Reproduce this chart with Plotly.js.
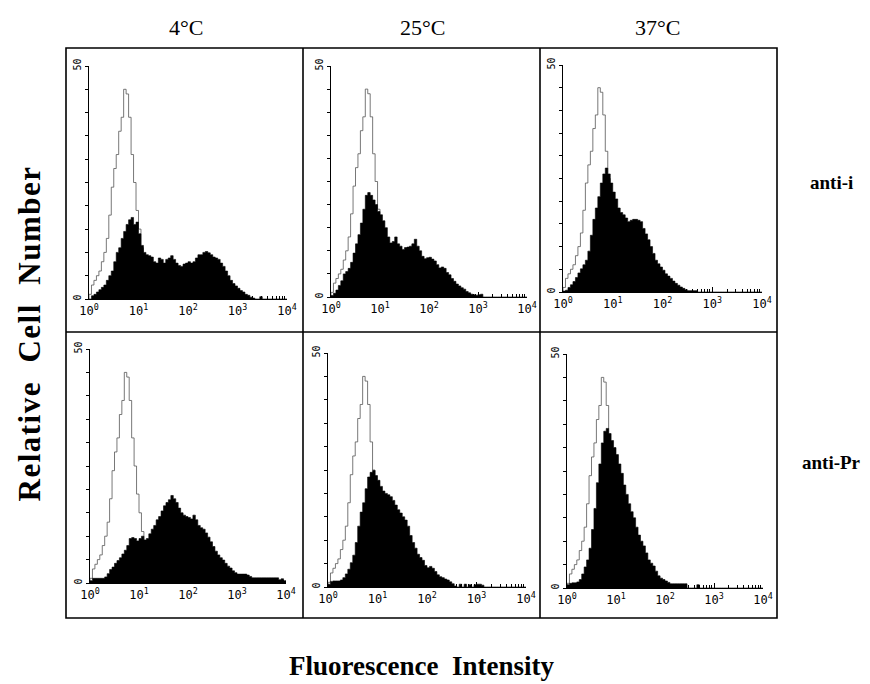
<!DOCTYPE html>
<html>
<head>
<meta charset="utf-8">
<script src="https://cdn.plot.ly/plotly-3.0.1.min.js"></script>
<style>html,body{margin:0;padding:0;background:#fff;}#chart{width:870px;height:684px;}</style>
</head>
<body>
<div id="chart"></div>
<script>
// ---- Data (cell counts per fluorescence channel; channels are 0.05-decade bins from 10^0 to 10^4) ----
const binStepLog = 0.05;
const nBins = 80;
const temperatures = ['4°C', '25°C', '37°C'];
const antibodies = ['anti-i', 'anti-Pr'];
const decadeTicks = [1, 10, 100, 1000, 10000];
const decadeLabels = ['10<sup>0</sup>', '10<sup>1</sup>', '10<sup>2</sup>', '10<sup>3</sup>', '10<sup>4</sup>'];
const yTickVals = [0, 50];
const yTickLabels = ['0', '50'];
const yMinorStep = 5;

// open histogram: negative control
const control = [1,3,4,5,6,8,10,13,18,24, 28,31,36,39,45,44,39,31,25,19, 15,11,7,5,3,2,1,0.5];

// filled histograms
const anti_i_4C = [0,0.7,1,1.5,2,2.5,3,4,5,6, 8,10,11,13,14.5,16,17,17.5,16,16.5,
  14,11.5,10,9.5,9.3,9,8,7.7,8.8,8.5, 7.7,8.5,8.8,9.3,8.5,7.7,7.2,7,7.5,7.7,
  8,7.7,8,8.8,9.5,9.5,10,10.2,9.9,9.5, 9,8.8,8.5,7.7,7,6,5,4,3.3,2.8,
  2.3,1.8,1.5,1,0.8,0.4,0.2,0,0,0.5];
const anti_i_25C = [0.3,0.8,1.5,2.5,3.5,5,5.5,6.2,7.5,9.5, 11.5,13.5,16,19,22,22.6,22,21,20,18.5,
  17.8,16.5,15,13,11.7,12,13,11.5,11,10.3, 10.7,10.8,11,11.5,12.5,11,10,8.8,8.3,8.5,
  8.6,8.2,7.8,7,6.3,6.5,6.2,5.3,4.8,4, 3.4,2.8,2.4,2,1.7,1.2,0.9,0.6,0.5,0.4, 0.5,0.6];
const anti_i_37C = [0.2,0.4,1,1.6,2.3,3.2,4.2,5.1,6,7, 9,12.5,16,18.5,21,24,26,27.3,26,24,
  22,20.5,18.5,17.5,17,16.3,15.5,15.8,16,16, 15.8,15.5,14,12.8,11.5,10,8.5,7,6.2,5.5,
  4.8,4,3.5,3,2.4,1.9,1.5,1.1,0.8,0.5, 0.3,0.3,0.3,0.3];
const anti_Pr_4C = [0.5,1,1,1,1,1,1.3,2,2.9,3.4, 4.2,4.8,5.4,6.2,7,8,9.5,9.7,9.5,9,
  9.5,10,9.2,9.5,10.5,11.5,12.3,13.5,14.2,15.4, 16.5,17.2,17.8,18.7,18,17.2,16,15,14.5,14.2,
  14,13.7,14.5,13.5,12.3,11.8,11.5,10.7,9.8,8.8, 7.8,6.8,6,5.4,4.9,4.2,3.6,3.2,2.6,2.2,
  1.9,1.9,1.9,1.9,1.7,1.4,1.1,1.1,1.1,1.1, 1.1,1.1,1.1,1.1,1.1,1.1,1.1,0.7,0.9,0.5];
const anti_Pr_25C = [0.6,1.2,1.3,1.3,1.3,1.5,2,2.8,3.8,5.2, 6.8,9.5,13,16,18,21,23.5,24.5,24.9,23.8,
  22.8,21.5,20.5,20,19.7,19.3,18.5,17.5,16.5,15.8, 15,14.3,13,11,9.5,8.3,7,6.3,5.7,4.6,
  4.1,4.4,4,3.3,2.6,2.2,2,1.7,1.5,1.1, 0.7,0.2,0,0.6,0,0.6,0,0.5,0,0.5, 0.6,0.6,0.4];
const anti_Pr_37C = [0.7,1,1.1,1.1,1.3,1.8,3,4.5,6,8.5, 12.5,17,22.5,26.5,31,33.5,34.1,33,31.5,30,
  28.5,26.5,24.5,22,20,18,16.3,15,13,11.3, 10,9,7.5,6,5.3,4.7,3.6,2.6,2.1,1.8,
  1.5,1.2,0.9,0.9,0.9,0.9,0.9,0.9,0.9,0,0,0,0,0.7];

// ---- Layout geometry (pixels) ----
const W = 870, H = 684;
const panels = [
  {data: anti_i_4C,   px: [89, 287],  py: [66, 299]},
  {data: anti_i_25C,  px: [331, 527], py: [66, 297]},
  {data: anti_i_37C,  px: [563, 762], py: [65, 292]},
  {data: anti_Pr_4C,  px: [90, 286],  py: [349, 583]},
  {data: anti_Pr_25C, px: [328, 526], py: [353, 587]},
  {data: anti_Pr_37C, px: [567, 763], py: [354, 588]}
];
const fx = p => p / W;
const fy = p => 1 - p / H;

function edges(n) {
  const e = [];
  for (let i = 0; i <= n; i++) e.push(Math.pow(10, i * binStepLog));
  return e;
}
function stepTrace(counts, n, axisIdx, opts) {
  const e = edges(n);
  const xs = [1], ys = [0];
  for (let i = 0; i < n; i++) { xs.push(e[i]); ys.push(i < counts.length ? counts[i] : 0); }
  xs.push(e[n]); ys.push(ys[ys.length - 1]);
  xs.push(e[n]); ys.push(0);
  return Object.assign({
    type: 'scatter', mode: 'lines', x: xs, y: ys,
    xaxis: 'x' + axisIdx, yaxis: 'y' + axisIdx,
    line: {shape: 'hv'}, hoverinfo: 'skip', showlegend: false
  }, opts);
}

const minorVals = [];
for (let d = 0; d < 4; d++) for (let k = 2; k <= 9; k++) minorVals.push(k * Math.pow(10, d));

const traces = [];
const layout = {
  width: W, height: H, margin: {l: 0, r: 0, t: 0, b: 0},
  paper_bgcolor: '#fff', plot_bgcolor: 'rgba(0,0,0,0)',
  showlegend: false, annotations: [], shapes: []
};

panels.forEach((p, idx) => {
  const k = idx + 1;
  traces.push(stepTrace(control, control.length, k, {line: {shape: 'hv', color: '#555', width: 0.8}}));
  traces.push(stepTrace(p.data, nBins, k, {fill: 'tozeroy', fillcolor: '#000', line: {shape: 'hv', color: '#000', width: 0.6}}));
  const xa = 'xaxis' + (k === 1 ? '' : k), ya = 'yaxis' + (k === 1 ? '' : k);
  layout[xa] = {
    type: 'log', range: [0, 4], domain: [fx(p.px[0]), fx(p.px[1])], anchor: 'y' + k,
    showline: true, linecolor: '#000', linewidth: 1.3, mirror: false,
    ticks: 'inside', ticklen: 5, tickwidth: 1, tickcolor: '#000',
    tickmode: 'array', tickvals: decadeTicks, ticktext: decadeLabels,
    tickfont: {family: 'DejaVu Sans Mono', size: 12, color: '#000'},
    minor: {tickmode: 'array', tickvals: minorVals, ticks: 'inside', ticklen: 3, tickwidth: 1, tickcolor: '#000', showgrid: false},
    showgrid: false, zeroline: false, fixedrange: true
  };
  layout[ya] = {
    range: [0, 50], domain: [fy(p.py[1]), fy(p.py[0])], anchor: 'x' + k,
    showline: true, linecolor: '#000', linewidth: 1,
    ticks: 'outside', ticklen: 3, tickwidth: 1, tickcolor: '#000',
    tickmode: 'array', tickvals: yTickVals, ticktext: yTickLabels, tickangle: -90,
    tickfont: {family: 'DejaVu Sans Mono', size: 10, color: '#000'},
    minor: {tick0: 0, dtick: yMinorStep, ticks: 'outside', ticklen: 3, tickwidth: 1, tickcolor: '#000', showgrid: false},
    showgrid: false, zeroline: false, fixedrange: true
  };
});

// frame
const frame = {x0: 66, x1: 777, y0: 48, y1: 618, xs: [303, 540], ym: 332};
const ln = {color: '#000', width: 1.6};
layout.shapes.push({type: 'rect', xref: 'paper', yref: 'paper', x0: fx(frame.x0), x1: fx(frame.x1), y0: fy(frame.y1), y1: fy(frame.y0), line: ln});
frame.xs.forEach(x => layout.shapes.push({type: 'line', xref: 'paper', yref: 'paper', x0: fx(x), x1: fx(x), y0: fy(frame.y1), y1: fy(frame.y0), line: ln}));
layout.shapes.push({type: 'line', xref: 'paper', yref: 'paper', x0: fx(frame.x0), x1: fx(frame.x1), y0: fy(frame.ym), y1: fy(frame.ym), line: ln});

// column titles
const colCenters = [186, 422, 657];
temperatures.forEach((t, i) => layout.annotations.push({
  xref: 'paper', yref: 'paper', x: fx(colCenters[i]), y: fy(27), text: t, showarrow: false,
  xanchor: 'center', yanchor: 'middle', font: {family: 'Liberation Serif', size: 22, color: '#000'}
}));
// row labels
const rowCenters = [182, 462];
const rowX = [831, 831];
antibodies.forEach((a, i) => layout.annotations.push({
  xref: 'paper', yref: 'paper', x: fx(rowX[i]), y: fy(rowCenters[i]), text: '<b>' + a + '</b>', showarrow: false,
  xanchor: 'center', yanchor: 'middle', font: {family: 'Liberation Serif', size: 19, color: '#000'}
}));
// axis titles
layout.annotations.push({
  xref: 'paper', yref: 'paper', x: fx(29), y: fy(334), text: '<b>Relative  Cell  Number</b>', showarrow: false,
  textangle: -90, xanchor: 'center', yanchor: 'middle', font: {family: 'Liberation Serif', size: 31, color: '#000'}
});
layout.annotations.push({
  xref: 'paper', yref: 'paper', x: fx(421), y: fy(666), text: '<b>Fluorescence  Intensity</b>', showarrow: false,
  xanchor: 'center', yanchor: 'middle', font: {family: 'Liberation Serif', size: 27, color: '#000'}
});

Plotly.newPlot('chart', traces, layout, {displayModeBar: false, staticPlot: true}).then(gd => {
  gd.querySelectorAll('.annotation-text').forEach(t => {
    if (t.textContent.indexOf('Relative') >= 0) t.style.letterSpacing = '1.5px';
  });
});
</script>
</body>
</html>
